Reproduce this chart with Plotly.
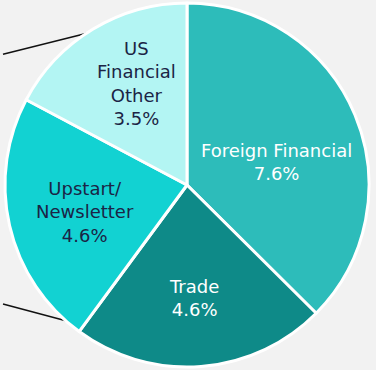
import plotly.graph_objects as go

# Breakdown of the "other" share by source type
labels = ["Foreign Financial", "Trade", "Upstart/Newsletter", "US Financial Other"]
display_labels = ["Foreign Financial", "Trade", "Upstart/<br>Newsletter", "US<br>Financial<br>Other"]
shares = [7.6, 4.6, 4.6, 3.5]
colors = ["#2DBCBA", "#0E8A88", "#12D2D2", "#B3F5F3"]
text_colors = ["#FFFFFF", "#FFFFFF", "#1B2445", "#1B2445"]

W, H = 376, 370

# Label block centres, in pixels from the top-left of the figure
label_pos = [(279, 162), (195, 300), (84, 212), (136, 82)]

fig = go.Figure(
    go.Pie(
        labels=labels,
        values=shares,
        textinfo="none",
        marker=dict(colors=colors, line=dict(color="#FFFFFF", width=3)),
        sort=False,
        direction="clockwise",
        rotation=0,
        showlegend=False,
        hoverinfo="label+value",
    )
)

for name, val, col, (px, py) in zip(display_labels, shares, text_colors, label_pos):
    fig.add_annotation(
        x=px / W, y=1 - py / H, xref="paper", yref="paper",
        xanchor="center", yanchor="middle",
        text=f"{name}<br>{val:.1f}%",
        showarrow=False,
        align="center",
        font=dict(family="DejaVu Sans", size=18, color=col),
    )

# Connector lines leading off toward the parent chart on the left
connectors = [((0, 52), (97, 28)), ((0, 306), (68, 324))]
for (x0, y0), (x1, y1) in connectors:
    fig.add_shape(
        type="line", xref="paper", yref="paper",
        x0=x0 / W, y0=1 - y0 / H, x1=x1 / W, y1=1 - y1 / H,
        line=dict(color="#111111", width=1.5),
        layer="below",
    )

fig.update_layout(
    width=W,
    height=H,
    margin=dict(l=3, r=5, t=3, b=3),
    paper_bgcolor="#F2F2F2",
    plot_bgcolor="#F2F2F2",
)

fig.write_html("out.html")
